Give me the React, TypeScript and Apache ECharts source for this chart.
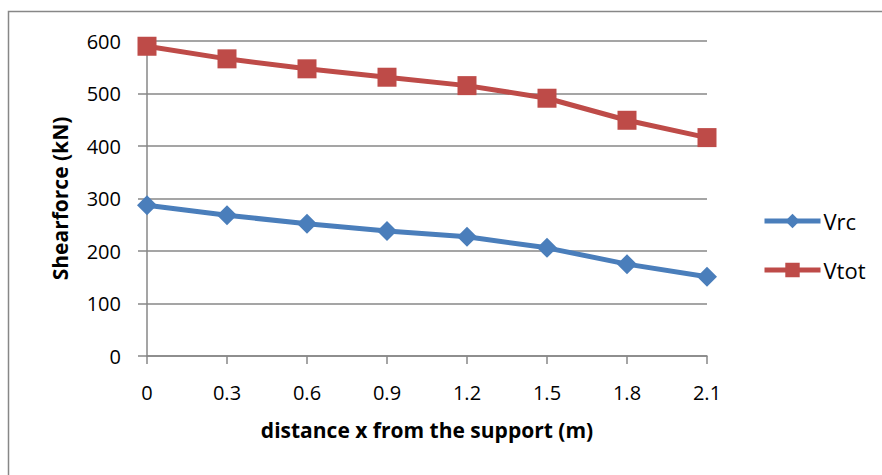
import React, { useEffect, useRef } from "react";
import * as echarts from "echarts";

const categories = ["0", "0.3", "0.6", "0.9", "1.2", "1.5", "1.8", "2.1"];
const vrc = [287, 268, 252, 238, 227, 206, 175, 151];
const vtot = [590, 566, 547, 531, 515, 491, 449, 416];
const yMin = 0;
const yMax = 600;
const yInterval = 100;

const FONT = "Open Sans";
const GRID_COLOR = "#878787";

export default function App() {
  const ref = useRef<HTMLDivElement>(null);
  useEffect(() => {
    if (!ref.current) return;
    const chart = echarts.init(ref.current, null, { renderer: "svg" });
    chart.setOption({
      animation: false,
      backgroundColor: "#ffffff",
      textStyle: { fontFamily: FONT },
      graphic: [
        {
          type: "rect",
          shape: { x: 8.5, y: 11.5, width: 900, height: 500 },
          style: { fill: "none", stroke: GRID_COLOR, lineWidth: 1.5 },
          silent: true,
        },
      ],
      grid: { left: 147, right: 175, top: 41, bottom: 119 },
      legend: {
        orient: "vertical",
        left: 757,
        top: 205,
        padding: 5,
        itemWidth: 56,
        itemHeight: 18,
        itemGap: 27,
        lineStyle: { width: 5 },
        textStyle: { fontFamily: FONT, fontSize: 22, color: "#000", padding: [0, 0, 0, -2] },
        data: ["Vrc", "Vtot"],
      },
      xAxis: {
        type: "category",
        data: categories,
        boundaryGap: false,
        name: "distance x from the support (m)",
        nameLocation: "middle",
        nameGap: 63,
        nameTextStyle: { fontFamily: FONT, fontSize: 21, fontWeight: "bold", color: "#000" },
        axisLine: { lineStyle: { color: GRID_COLOR, width: 1.5 } },
        axisTick: { show: true, inside: false, length: 8, alignWithLabel: true, lineStyle: { color: GRID_COLOR, width: 1.5 } },
        axisLabel: { fontFamily: FONT, fontSize: 20, color: "#000", margin: 26 },
        splitLine: { show: false },
      },
      yAxis: {
        type: "value",
        min: yMin,
        max: yMax,
        interval: yInterval,
        name: "Shearforce (kN)",
        nameLocation: "middle",
        nameGap: 77,
        nameTextStyle: { fontFamily: FONT, fontSize: 21, fontWeight: "bold", color: "#000" },
        axisLine: { show: true, lineStyle: { color: GRID_COLOR, width: 1.5 } },
        axisTick: { show: true, inside: false, length: 9, lineStyle: { color: GRID_COLOR, width: 1.5 } },
        axisLabel: { fontFamily: FONT, fontSize: 20, color: "#000", margin: 26 },
        splitLine: { show: true, lineStyle: { color: GRID_COLOR, width: 1.5 } },
      },
      series: [
        {
          name: "Vrc",
          type: "line",
          data: vrc,
          symbol: "diamond",
          symbolSize: 20,
          lineStyle: { color: "#4a7ebb", width: 5 },
          itemStyle: { color: "#4a7ebb" },
        },
        {
          name: "Vtot",
          type: "line",
          data: vtot,
          symbol: "rect",
          symbolSize: 19,
          lineStyle: { color: "#be4b48", width: 5 },
          itemStyle: { color: "#be4b48" },
        },
      ],
    });
    return () => chart.dispose();
  }, []);
  return (
    <div
      ref={ref}
      style={{ position: "fixed", left: 0, top: 0, width: 882, height: 475 }}
    />
  );
}
